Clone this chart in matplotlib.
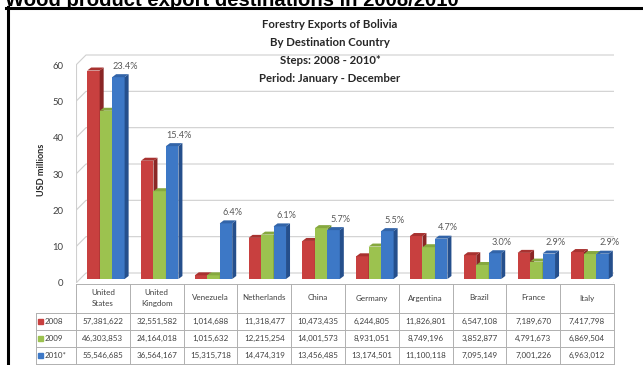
import matplotlib.pyplot as plt
from matplotlib.patches import Polygon, Rectangle
from matplotlib.lines import Line2D
from matplotlib.transforms import blended_transform_factory

# data (USD)
countries = ["United\nStates", "United\nKingdom", "Venezuela", "Netherlands", "China",
             "Germany", "Argentina", "Brazil", "France", "Italy"]
years = ["2008", "2009", "2010*"]
exports_2008 = [57381622, 32551582, 1014688, 11318477, 10473435, 6244805, 11826801, 6547108, 7189670, 7417798]
exports_2009 = [46303853, 24164018, 1015632, 12215254, 14001573, 8931051, 8749196, 3852877, 4791673, 6869504]
exports_2010 = [55546685, 36564167, 15315718, 14474319, 13456485, 13174501, 11100118, 7095149, 7001226, 6963012]
share_2010 = ["23.4%", "15.4%", "6.4%", "6.1%", "5.7%", "5.5%", "4.7%", "3.0%", "2.9%", "2.9%"]

series = [exports_2008, exports_2009, exports_2010]
front = ["#C8403F", "#9CC24F", "#3D78C6"]
side = ["#8A2625", "#6C8C33", "#254F8C"]
top = ["#A83230", "#86A83F", "#3264A8"]

plt.rcParams['font.family'] = ['Lato', 'DejaVu Sans']
W, H = 643, 365
fig = plt.figure(figsize=(W / 100, H / 100), dpi=100)

def fy(px):
    return 1 - px / H

# plot area: y=0 at pixel 283, y=60 at pixel 65
ax = fig.add_axes([76 / W, fy(283), (614 - 76) / W, (283 - 50) / H])
ux = 10 / (614 - 76)        # data units per pixel, x
uy = 60 / (283 - 65)        # data units per pixel, y
ax.set_xlim(-0.5, 9.5)
ax.set_ylim(0, 233 * uy)
for s in ax.spines.values():
    s.set_visible(False)
ax.set_xticks([])
ax.set_yticks(range(0, 70, 10))
ax.tick_params(axis='y', length=0, pad=9, labelsize=6.8, labelcolor='#404040')

# back wall / floor
DX, DY = 10 * ux, 10 * uy
grid_c = '#CFCFCF'
for v in range(0, 70, 10):
    ax.plot([-0.5, -0.5 + DX, 9.5 + DX], [v, v + DY, v + DY], color=grid_c, lw=0.8, zorder=1)
ax.plot([-0.5, -0.5], [0, 60], color=grid_c, lw=0.8, zorder=1)
ax.plot([9.5, 9.5 + DX], [0, DY], color=grid_c, lw=0.8, zorder=1)

# 3d-ish bars
bw = 0.232
sx, b0 = 3 * ux, 4 * uy
sdx, sdy = 4 * ux, 3 * uy
for i in range(len(countries)):
    for j, vals in enumerate(series):
        h = vals[i] / 1e6
        x = i + (j - 1) * bw + sx
        z = 3 + i * 0.1 + j * 0.01
        ax.bar(x, h, bw, bottom=b0, color=front[j], lw=0, zorder=z)
        xr = x + bw / 2
        ax.add_patch(Polygon([(xr, b0), (xr, b0 + h), (xr + sdx, b0 + h + sdy), (xr + sdx, b0 + sdy)],
                             closed=True, color=side[j], lw=0, zorder=z))
        ax.add_patch(Polygon([(x - bw / 2, b0 + h), (xr, b0 + h), (xr + sdx, b0 + h + sdy),
                              (x - bw / 2 + sdx, b0 + h + sdy)], closed=True, color=top[j], lw=0, zorder=z))
    xb = i + bw + sx
    ax.text(xb + 7 * ux, b0 + exports_2010[i] / 1e6 + 11 * uy, share_2010[i],
            ha='center', va='center', fontsize=6.6, color='#595959', zorder=10)

# titles
title_lines = ["Forestry Exports of Bolivia", "By Destination Country",
               "Steps: 2008 - 2010*", "Period: January - December"]
for k, line in enumerate(title_lines):
    fig.text(330 / W, fy(24 + 18 * k), line, ha='center', va='center',
             fontsize=8.2, fontweight='bold', color='#262626')
fig.text(42 / W, fy(170), "USD millions", rotation=90, ha='center', va='center',
         fontsize=6.6, fontweight='bold', color='#262626')

fig.text(5 / W, fy(6), "Wood product export destinations in 2008/2010", ha='left', va='baseline',
         fontsize=14.6, fontweight='bold', family='Liberation Sans', color='black')

# frame
fig.add_artist(Line2D([7.5 / W, 7.5 / W], [0, fy(7)], color='black', lw=2.2))
fig.add_artist(Line2D([6 / W, 1], [fy(8), fy(8)], color='black', lw=2.2))

# data table
T = blended_transform_factory(ax.transData, fig.transFigure)
tc = '#B0B0B0'
row_y = [313, 330, 347, 364]
fig.add_artist(Line2D([76 / W, 614 / W], [fy(284), fy(284)], color=tc, lw=0.7))
for yy in row_y:
    fig.add_artist(Line2D([36 / W, 614 / W], [fy(yy), fy(yy)], color=tc, lw=0.7))
fig.add_artist(Line2D([36 / W, 36 / W], [fy(313), fy(364)], color=tc, lw=0.7))
for k in range(len(countries) + 1):
    fig.add_artist(Line2D([k - 0.5, k - 0.5], [fy(284), fy(364)], color=tc, lw=0.7, transform=T))
for i, c in enumerate(countries):
    fig.text(i, fy(298), c, transform=T, ha='center', va='center', fontsize=5.8,
             color='#404040', linespacing=1.6)
    for j, vals in enumerate(series):
        fig.text(i, fy((row_y[j] + row_y[j + 1]) / 2), f"{vals[i]:,}", transform=T,
                 ha='center', va='center', fontsize=5.8, color='#404040')
for j, yr in enumerate(years):
    yc = (row_y[j] + row_y[j + 1]) / 2
    fig.add_artist(Rectangle((38 / W, fy(yc + 2.5)), 5 / W, 5 / H, color=front[j], transform=fig.transFigure))
    fig.text(45 / W, fy(yc), yr, ha='left', va='center', fontsize=5.8, color='#404040')

fig.savefig("out.png", dpi=100)
